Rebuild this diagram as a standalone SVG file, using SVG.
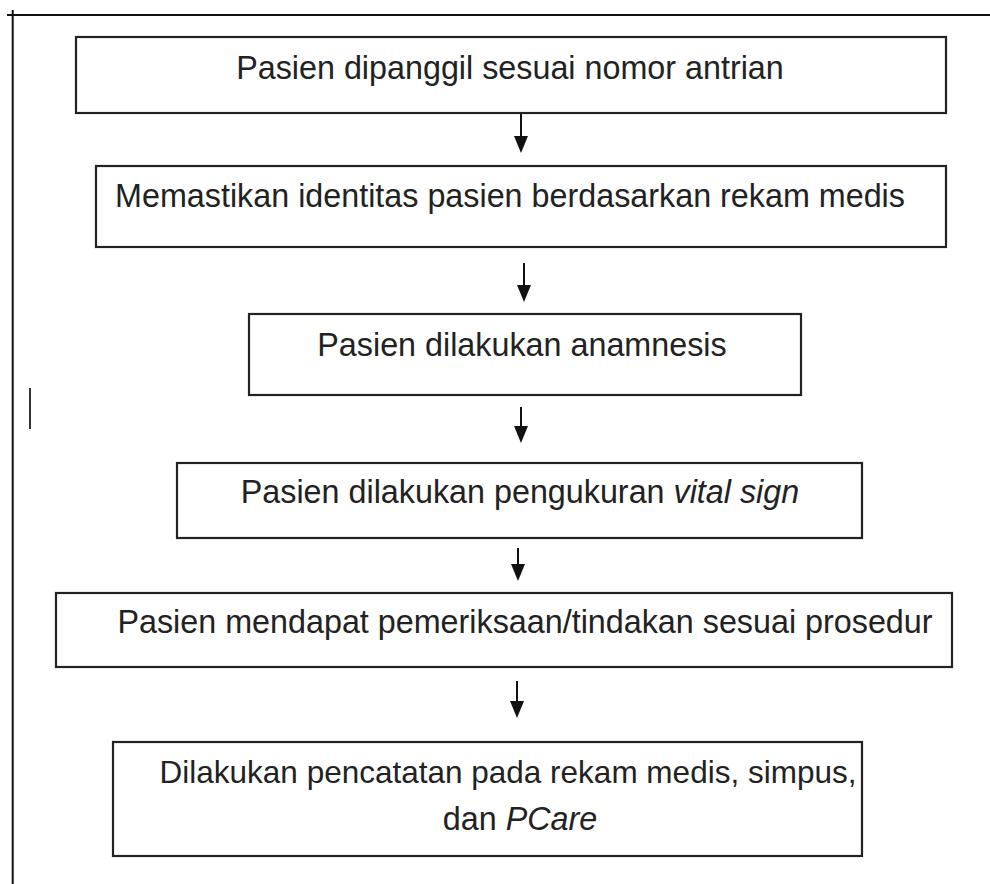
<svg xmlns="http://www.w3.org/2000/svg" width="990" height="884" viewBox="0 0 990 884">
<style>
.frame{stroke:#111;stroke-width:2;fill:none}
.box{fill:#fff;stroke:#222;stroke-width:2.2}
.t{font-family:"Liberation Sans",Arial,sans-serif;font-size:32.3px;fill:#222;text-anchor:middle}
.conn{stroke:#111;stroke-width:2;fill:none}
.head{fill:#111}
</style>
<rect width="990" height="884" fill="#fff"/>
<g id="frame">
<line class="frame" x1="7" y1="15" x2="990" y2="15"/>
<line class="frame" x1="12.7" y1="10" x2="12.7" y2="884"/>
<line x1="30" y1="388" x2="30" y2="429" stroke="#333" stroke-width="2"/>
</g>
<g id="connectors">
<line class="conn" x1="521" y1="114" x2="521" y2="137"/>
<path class="head" d="M514,136 L528,136 L521,153 Z"/>
<line class="conn" x1="524" y1="263" x2="524" y2="286"/>
<path class="head" d="M517,285 L531,285 L524,302 Z"/>
<line class="conn" x1="521" y1="407" x2="521" y2="427"/>
<path class="head" d="M514,426 L528,426 L521,443 Z"/>
<line class="conn" x1="518" y1="548" x2="518" y2="565"/>
<path class="head" d="M511,564 L525,564 L518,581 Z"/>
<line class="conn" x1="517" y1="681" x2="517" y2="702"/>
<path class="head" d="M510,701 L524,701 L517,718 Z"/>
</g>
<g id="n1">
<rect class="box" x="76" y="37" width="870" height="76"/>
<text class="t" x="510" y="79">Pasien dipanggil sesuai nomor antrian</text>
</g>
<g id="n2">
<rect class="box" x="96" y="166" width="850" height="81"/>
<text class="t" x="510" y="207">Memastikan identitas pasien berdasarkan rekam medis</text>
</g>
<g id="n3">
<rect class="box" x="249" y="314" width="552" height="81"/>
<text class="t" x="522" y="356">Pasien dilakukan anamnesis</text>
</g>
<g id="n4">
<rect class="box" x="177" y="463" width="685" height="75"/>
<text class="t" x="520" y="503">Pasien dilakukan pengukuran <tspan font-style="italic">vital sign</tspan></text>
</g>
<g id="n5">
<rect class="box" x="56" y="593" width="896" height="74"/>
<text class="t" x="525" y="633">Pasien mendapat pemeriksaan/tindakan sesuai prosedur</text>
</g>
<g id="n6">
<rect class="box" x="113" y="742" width="749" height="114"/>
<text class="t" x="508" y="783" style="font-size:31.5px">Dilakukan pencatatan pada rekam medis, simpus,</text>
<text class="t" x="520" y="830">dan <tspan font-style="italic">PCare</tspan></text>
</g>
</svg>
